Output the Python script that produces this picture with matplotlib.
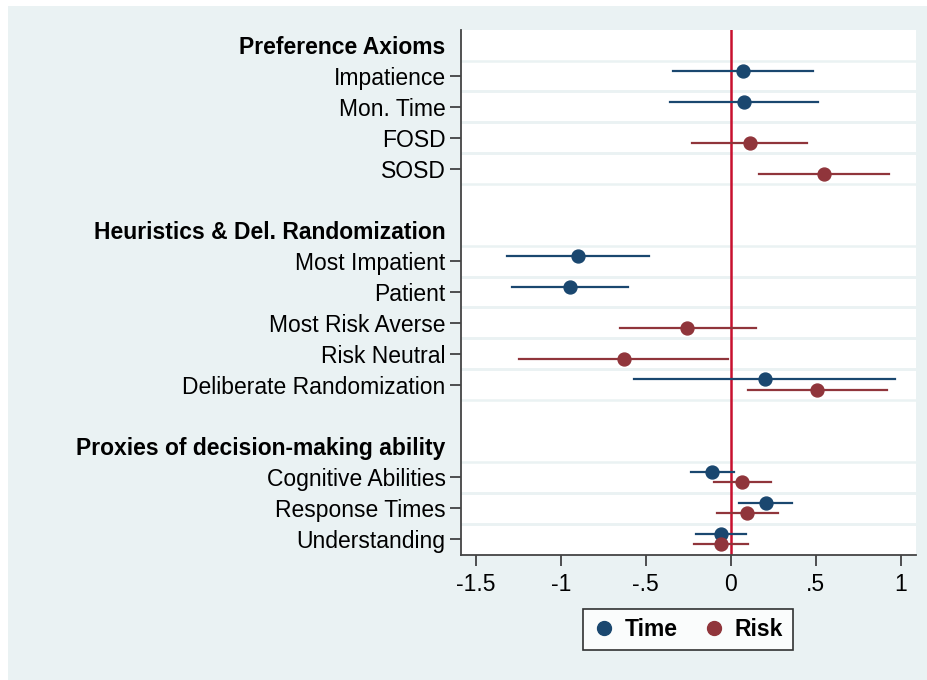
import matplotlib
matplotlib.use("Agg")
import matplotlib.pyplot as plt
from matplotlib.patches import Rectangle
from matplotlib.lines import Line2D

plt.rcParams["font.family"] = ["Liberation Sans", "DejaVu Sans"]

# row labels, top to bottom
labels = [
    "Preference Axioms", "Impatience", "Mon. Time", "FOSD", "SOSD", "",
    "Heuristics & Del. Randomization", "Most Impatient", "Patient",
    "Most Risk Averse", "Risk Neutral", "Deliberate Randomization", "",
    "Proxies of decision-making ability", "Cognitive Abilities",
    "Response Times", "Understanding",
]
headers = [0, 6, 13]
blanks = [5, 12]

# Time estimates: row index, point, ci low, ci high
time_rows = [1, 2, 7, 8, 11, 14, 15, 16]
time_est = [0.07, 0.075, -0.90, -0.947, 0.20, -0.108, 0.208, -0.057]
time_lo = [-0.34, -0.357, -1.32, -1.29, -0.571, -0.237, 0.047, -0.204]
time_hi = [0.484, 0.512, -0.48, -0.604, 0.967, 0.018, 0.363, 0.088]

# Risk estimates
risk_rows = [3, 4, 9, 10, 11, 14, 15, 16]
risk_est = [0.112, 0.549, -0.255, -0.631, 0.51, 0.067, 0.096, -0.055]
risk_lo = [-0.228, 0.167, -0.655, -1.247, 0.10, -0.10, -0.084, -0.216]
risk_hi = [0.449, 0.929, 0.151, -0.014, 0.922, 0.235, 0.275, 0.104]

xticks = [-1.5, -1, -0.5, 0, 0.5, 1]
xticklabels = ["-1.5", "-1", "-.5", "0", ".5", "1"]

NAVY = "#1a476f"
MAROON = "#90353b"
BG = "#eaf2f3"
FS = 16.5

fig = plt.figure(figsize=(9.28, 6.8), dpi=100, facecolor="white")
fig.patches.append(Rectangle((8 / 928, 0), 1, 674 / 680, transform=fig.transFigure,
                             facecolor=BG, edgecolor="none", zorder=-10))
ax = fig.add_axes([461 / 928, 125 / 680, 455 / 928, 525 / 680])
ax.set_facecolor("white")

# gridlines between coefficient rows
for i in range(len(labels)):
    if i in headers or i in blanks:
        continue
    for b in (i - 0.5, i + 0.5):
        if b < 16.4:
            ax.axhline(b, color=BG, linewidth=1.8, zorder=0)

ax.axvline(0, color="#c8102e", linewidth=1.8, zorder=1)

off = 0.17
for r, e, lo, hi in zip(time_rows, time_est, time_lo, time_hi):
    y = r - off
    ax.plot([lo, hi], [y, y], color=NAVY, linewidth=1.6, zorder=2)
    ax.plot(e, y, "o", color=NAVY, markersize=9.3, zorder=3)
for r, e, lo, hi in zip(risk_rows, risk_est, risk_lo, risk_hi):
    y = r + off
    ax.plot([lo, hi], [y, y], color=MAROON, linewidth=1.6, zorder=2)
    ax.plot(e, y, "o", color=MAROON, markersize=9.3, zorder=3)

ax.set_xlim(-1.588, 1.09)
ax.set_ylim(16.52, -0.49)
ax.set_xticks(xticks)
ax.set_xticklabels(xticklabels, fontsize=FS)

rows = [i for i in range(len(labels)) if i not in blanks]
ax.set_yticks(rows)
ax.set_yticklabels([labels[i] for i in rows], fontsize=FS)
ax.tick_params(axis="both", length=8, width=1.2, color="#333333", pad=3)
ax.tick_params(axis="x", pad=5)
for t, lab, i in zip(ax.yaxis.get_major_ticks(), ax.get_yticklabels(), rows):
    if i in headers:
        t.tick1line.set_visible(False)
        lab.set_fontweight("bold")

for s in ("top", "right"):
    ax.spines[s].set_visible(False)
for s in ("left", "bottom"):
    ax.spines[s].set_color("#444444")
    ax.spines[s].set_linewidth(1.3)

handles = [
    Line2D([], [], marker="o", linestyle="none", color=NAVY, markersize=10),
    Line2D([], [], marker="o", linestyle="none", color=MAROON, markersize=10),
]
leg = fig.legend(handles, ["Time", "Risk"], loc="center", ncol=2,
                 bbox_to_anchor=(688 / 928, 1 - 629.5 / 680),
                 prop={"weight": "bold", "size": 16.5}, frameon=True,
                 fancybox=False, handletextpad=0.4, columnspacing=1.1,
                 handlelength=1.0, borderpad=0.4, borderaxespad=0)
leg.get_frame().set_edgecolor("black")
leg.get_frame().set_linewidth(1.2)

fig.savefig("out.png", dpi=100, facecolor=fig.get_facecolor())
